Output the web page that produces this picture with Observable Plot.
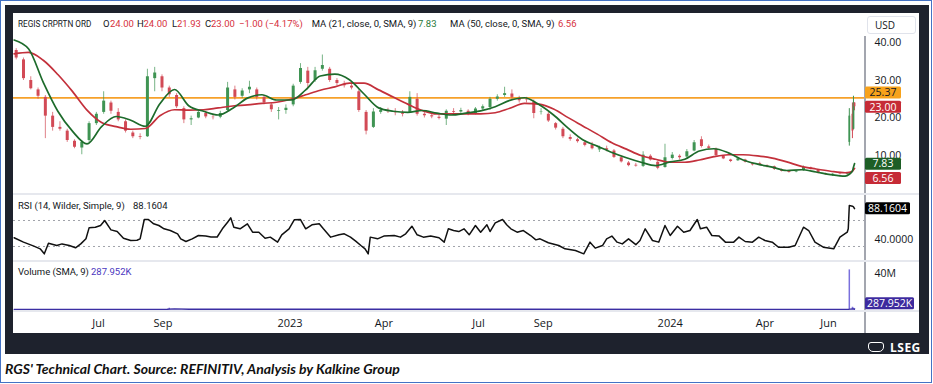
<!DOCTYPE html>
<html><head><meta charset="utf-8">
<script src="https://cdn.jsdelivr.net/npm/d3@7"></script>
<script src="https://cdn.jsdelivr.net/npm/@observablehq/plot@0.6"></script>
<style>
body{margin:0;background:#fff;width:933px;height:384px;overflow:hidden;position:relative;font-family:"Open Sans",sans-serif;color:#131722}
#border{position:absolute;left:0;top:0;width:930px;height:381px;border:1px solid #4472c4}
#frame{position:absolute;left:5px;top:5px;width:924px;height:349px;background:#1e222d}
#inner{position:absolute;left:13px;top:13px;width:906px;height:320px;background:#fff;overflow:hidden}
.pl{position:absolute;left:0}
.sep{position:absolute;left:0;width:906px;height:2px;background:#e6e8ee}
.t{position:absolute;white-space:nowrap;font:9.5px/12px Roboto,sans-serif}
#caption{position:absolute;left:5px;top:360px;font:italic bold 14px Lato,sans-serif;color:#111;white-space:nowrap}
#lseg{position:absolute;left:890px;top:339px;font:bold 12px "Open Sans",sans-serif;color:#fff;letter-spacing:0.5px}
#logo{position:absolute;left:868px;top:342px;width:14px;height:8px;border:1.5px solid #fff;border-radius:3px 3px 5px 5px}
#usd{position:absolute;left:854px;top:3px;width:47px;height:16px;border:1px solid #e0e3eb;border-radius:3px;background:#fff;font:10px/16px "Open Sans",sans-serif;text-indent:7px}
#vaxis{position:absolute;left:851px;top:23px;width:1.5px;height:297px;background:#a3a6af}
</style></head>
<body>
<div id="border"></div>
<div id="frame"></div>
<div id="inner">
  <div id="vaxis"></div>
</div>
<div id="logo"></div>
<div id="lseg">LSEG</div>
<div id="caption">RGS' Technical Chart. Source: REFINITIV, Analysis by Kalkine Group</div>
<script>
// ---------------- DATA ----------------
// weekly candles, first week starting Monday 2022-04-11
const firstWeek = "2022-04-11";
const open = [38,35.5,30,27.5,25.5,20.5,17.5,16.5,13.8,12,
14,18.5,21.5,24,21.5,19,16,15,15,30.5,
31,28,26,22.5,19.5,20,21.2,20.2,20.2,22,
27.5,25.8,27.5,27.5,25.5,23.5,21.8,22,23.5,29.5,
32.5,30,33,33,30,29,28.5,27,21.5,17.5,
21.5,22,21.6,21.3,21.5,25,21,20.6,20.2,19.7,
21.7,21.6,21.8,21.2,22.4,22.8,25,26,26.4,25.2,
24.8,24.3,21.5,21,18.5,17,14.8,14.2,13.4,12.7,
11.5,11.8,11.2,9.4,8,7.4,7.1,9.8,8.2,6.8,
9.2,9.8,9.6,11.2,14.2,12.3,11.7,9.8,8.8,8.6,
8.8,7.8,7.8,7.2,7,6.2,5.8,5.6,6,6.7,
6,5.2,4.8,5.1,5];
const high = [38.5,36,31,28,26,21.5,19,17,14.2,14,
19,21.5,27,24.5,22.5,19.5,16.5,15.8,33,33.5,
31.5,28.5,26.5,23,20.5,22,21.8,21,21.8,29.5,
28.5,27.8,29.8,28,26,24,22.8,23.5,29,34.5,
33.5,33.5,36.8,33.5,30.5,29.8,29.5,27.5,22,22.5,
22.8,22.6,22.5,22,27,26.5,21.5,21.2,20.8,22.2,
22.5,22.6,22.2,22.8,23.5,25.5,26.2,28.2,27.5,25.8,
25.5,24.8,22.5,21.5,18.8,17.5,15.5,14.6,14,13.5,
12.5,12.5,11.6,9.8,8.4,7.9,11,10.2,8.5,13,
10.8,10.2,11.6,14,15,12.8,12,10,9,9.5,
9,8,8.2,7.5,7.2,6.4,6,6,7.2,6.9,
6.1,5.3,5.2,5.5,5.4];
const low = [35.5,30,27.5,25,14.5,16.5,16.5,13.5,11.8,10.2,
13.5,18,21,21,19,16,14.5,14.2,14.8,27,
27,25.5,22.5,18.5,18,19.8,19.8,19.5,19.8,21.5,
24.8,25.2,26.5,24.8,23.5,21.5,19.5,21,23,29,
28,29.5,32.5,29.5,28.5,28,27.5,21.5,15.5,17.2,
21,21.2,20.6,20.3,21.2,20.5,20,19.8,19.5,18,
21,21,20.6,20.8,22,22,24.5,25.5,25,24,
24,19.8,20.8,18.8,16.8,14.5,13.8,13.3,12.3,11.5,
10.8,11,9.2,8,7,6.9,6.8,8.5,6.2,6.6,
8.8,8.8,9.3,11,12,11.6,9.7,8.9,8.1,8.4,
8,7.2,7.3,6.7,6,5.6,5.3,5.4,5.8,6.1,
5.1,4.7,4.4,4.8,4.8];
const close = [36,30.5,27.8,25.8,20.5,17.5,17,14,12.2,13.5,
18.5,21,24.5,21.8,19.5,16.5,15,14.8,31,32,
28,26.2,23,19.5,19.8,21.5,20.3,20.1,21.2,28,
25.5,27.2,28.2,25.5,24,22.2,22,22.6,28.5,33.2,
29.2,32.6,34,30,29.2,28.6,28,22,16.5,21.6,
22,21.7,21.4,21,25.5,21,20.6,20.3,19.9,21.8,
21.5,22,21.2,22.4,23,25,25.6,26.5,25.5,24.6,
24.7,21.2,21.6,19.2,17.3,15,14.3,13.7,12.7,11.8,
11.8,11.4,9.5,8.3,7.3,7.2,10.1,8.8,6.6,9.4,
10.1,9.4,11,13.4,12.4,11.9,10,9.1,8.4,9.1,
8.2,7.5,7.5,7,6.3,5.8,5.5,5.8,6.8,6.3,
5.3,4.9,5,5,5.2];
// final daily candles (June 2024 spike)
const dayDates = ["2024-06-21","2024-06-24","2024-06-25","2024-06-26"];
const dayOpen  = [13.5,21,17,24];
const dayHigh  = [22.5,24,25.8,24];
const dayLow   = [12.5,14.5,16.8,21.93];
const dayClose = [20.5,16.5,24,23];

// moving averages, sampled every 2 weeks from firstWeek, plus a daily tail
const ma21 = [40.8,38.4,29.5,21.8,16.5,13.1,17.7,20.4,19.4,17.8,
23.8,27.6,23.2,21.8,20.8,22.6,25.3,26.2,24.8,24.8,
27.5,31.2,31.7,30.2,26.4,22.7,21.8,21.5,22,21.3,
20.8,21.3,21.9,23,24.7,25.4,23.6,20.8,17.3,14.2,
12.5,10.8,9.4,8.2,7.3,8.3,9,11.2,11.8,10.7,
8.8,7.7,6.9,6,6.2,5.6,4.9,4.5];
const ma50 = [37.1,37.5,35.4,31.6,27.1,22.1,18.8,17.7,17,17.2,
20.6,22.2,22.1,22.2,22.7,23.2,23.5,23.9,24.2,25,
26.2,27.4,28.3,29.3,29.3,27.5,25.6,23.7,22,21.1,
21.1,21.1,21.1,21.4,22.6,23.9,23.7,22.4,20.1,17.9,
15.7,13.4,11.7,10,9,8.2,8.2,8.8,9.7,10.2,
10.2,9.9,9.3,8.3,7.1,6.4,5.8,5.4];
const maTailDates = ["2024-06-21","2024-06-24","2024-06-25","2024-06-26"];
const ma21Tail = [5.0,5.9,6.9,7.83];
const ma50Tail = [5.5,5.8,6.2,6.56];

const resistance = 25.37;

// RSI: day offset from firstWeek, value
const rsiDay = [0,9,19,25,29,33,41,46,53,59,64,69,72,78,83,87,93,99,105,112,118,121,125,129,134,139,144,150,157,160,165,171,177,184,189,195,200,205,208,211,217,224,229,235,241,246,253,257,264,269,275,280,286,293,297,304,312,317,323,328,333,337,340,342,349,355,365,371,376,382,387,393,400,408,413,417,422,427,432,437,443,448,454,457,462,469,473,477,483,489,496,501,505,513,523,529,539,547,553,558,565,569,574,579,584,590,597,601,606,613,619,625,630,637,643,649,656,659,665,670,677,683,691,696,702,709,715,721,728,734,744,750,758,763,769,777,787,793,800,801,802,805,806,807];
const rsiVal = [43.4,36.7,30.5,26.4,18.7,35,31.5,34,31.5,28,34,41.8,58.7,59.7,62.3,70,55.6,53,42.8,39.2,39.6,41.8,71.5,71.5,64.9,62.3,57.2,54.6,49.5,41.8,37.7,41.8,46.9,46,44.6,44.6,57.2,67.4,74.1,59.7,57.2,64.9,52,52,42.8,44.4,36.7,48,57.2,71,71.5,57.2,63.4,64.9,57.2,44.4,48,49.5,44.4,38.2,31.5,26.4,18.7,44.4,41.8,46,46.9,44.4,49.5,61.2,48,44.4,46,43.4,36.7,57.2,54.6,53,57.2,48,62.3,52,63.4,53,66.4,71.5,63.4,57.2,52,54.6,46.9,40.2,41.8,35.7,31.5,26.4,23.8,18.7,36.7,27.5,31.5,41.8,46,36.7,34,41.8,32.8,39.2,57.2,39.2,36.7,62.3,46.9,61.2,52,54.6,71.5,57.2,59.7,46.9,46,36.7,36.7,44.4,37.7,36.7,44.4,39.2,36.7,28.9,28.9,31.5,59.7,54.6,36.7,28.9,26.4,44.4,52,57.2,93,92,91,88.1604];
const rsiLevels = [70, 30];

// volume
const volDates = ["2022-09-07","2024-06-21","2024-06-24","2024-06-25","2024-06-26"];
const volValues = [1.4e6, 44e6, 2.5e6, 1.5e6, 1.0e6];
const volSmaDates = ["2022-04-11","2022-09-05","2022-09-12","2022-09-26","2024-06-20","2024-06-24","2024-06-26"];
const volSmaValues = [0.25e6,0.3e6,0.6e6,0.3e6,0.2e6,0.6e6,0.287952e6];

// axis ticks
const priceTicks = [10,20,30,40];
const rsiTicks = [40];
const volTicks = [40e6];
const xTickDates = ["2022-07-01","2022-09-01","2023-01-01","2023-04-01","2023-07-01","2023-09-01","2024-01-01","2024-04-01","2024-06-01"];
const xTickLabels = ["Jul","Sep","2023","Apr","Jul","Sep","2024","Apr","Jun"];

// header values
const header = {name:"REGIS CRPRTN ORD", o:"24.00", h:"24.00", l:"21.93", c:"23.00", chg:"\u22121.00 (\u22124.17%)",
  ma21Label:"MA (21, close, 0, SMA, 9)", ma21Val:"7.83", ma50Label:"MA (50, close, 0, SMA, 9)", ma50Val:"6.56"};

// ---------------- BUILD ----------------
const DAY = 864e5;
const t0 = new Date(firstWeek + "T00:00Z").getTime();
const weekly = open.map((o,i)=>({date:new Date(t0 + (7*i+2)*DAY), o, h:high[i], l:low[i], c:close[i]}));
const daily = dayDates.map((d,i)=>({date:new Date(d+"T00:00Z"), o:dayOpen[i], h:dayHigh[i], l:dayLow[i], c:dayClose[i]}));
const maData = ma21.map((v,i)=>({date:new Date(t0 + 14*i*DAY), a:v, b:ma50[i]}))
  .concat(maTailDates.map((d,i)=>({date:new Date(d+"T00:00Z"), a:ma21Tail[i], b:ma50Tail[i]})));
const rsiData = rsiDay.map((d,i)=>({date:new Date(t0 + d*DAY), v:rsiVal[i]}));
const volData = volDates.map((d,i)=>({date:new Date(d+"T00:00Z"), v:volValues[i]}));
const volSma = volSmaDates.map((d,i)=>({date:new Date(d+"T00:00Z"), v:volSmaValues[i]}));

const W = 906, MR = 55;
const xScale = {type:"utc", domain:[new Date("2022-04-10T10:00Z"), new Date("2024-07-05T14:00Z")], axis:null};
const GREEN = "#3f9453", RED = "#d24a56";
const col = d => d.c >= d.o ? GREEN : RED;
const font = "Open Sans, sans-serif";

const inner = document.getElementById("inner");
function place(svg, top){ svg.classList.add("pl"); svg.style.top = top+"px"; inner.appendChild(svg); return svg; }
function sep(top){ const d=document.createElement("div"); d.className="sep"; d.style.top=top+"px"; inner.appendChild(d); }
function txt(left, top, s, color, sx){ const d=document.createElement("div"); d.className="t"; d.style.left=left+"px"; d.style.top=top+"px"; d.textContent=s; d.style.color=color||"#131722"; if(sx){d.style.transform="scaleX("+sx+")"; d.style.transformOrigin="left center";} inner.appendChild(d); }
function boxes(svg, items){
  const y = svg.scale("y");
  const g = d3.select(svg).append("g").attr("font-family", font).attr("font-size", 10.5);
  for (const it of items){
    const cy = y.apply(it.v) + (it.dy||0);
    g.append("rect").attr("x", W-MR+1).attr("y", cy-6).attr("width", it.w||36).attr("height", 12).attr("rx",1.5).attr("fill", it.bg);
    g.append("text").attr("x", W-MR+1+(it.w||36)/2).attr("y", cy).attr("dy","0.36em").attr("text-anchor","middle").attr("fill", it.fg||"#fff").text(it.text);
  }
}
const baseStyle = {fontFamily:font, fontSize:"11px", color:"#131722", background:"transparent", overflow:"visible"};

// main price panel
const main = Plot.plot({
  width:W, height:180, marginLeft:0, marginRight:MR, marginTop:0, marginBottom:0,
  style:baseStyle, x:xScale, y:{domain:[-0.13,47.87]},
  marks:[
    Plot.ruleY([resistance], {stroke:"#f6a12a", strokeWidth:1.6}),
    Plot.ruleX(weekly, {x:"date", y1:"l", y2:"h", stroke:col, strokeWidth:1, strokeOpacity:0.7}),
    Plot.ruleX(weekly, {x:"date", y1:"o", y2:"c", stroke:col, strokeWidth:3}),
    Plot.ruleX(daily, {x:"date", y1:"l", y2:"h", stroke:col, strokeWidth:1}),
    Plot.ruleX(daily, {x:"date", y1:"o", y2:"c", stroke:col, strokeWidth:1.8}),
    Plot.line(maData, {x:"date", y:"b", stroke:"#c3303b", strokeWidth:1.7, curve:"monotone-x"}),
    Plot.line(maData, {x:"date", y:"a", stroke:"#1d6b2b", strokeWidth:1.7, curve:"monotone-x"}),
    Plot.axisY(priceTicks, {anchor:"right", label:null, tickSize:0, tickPadding:10, tickFormat:d=>d.toFixed(2), fontSize:10.5})
  ]
});
place(main, 0);
boxes(main, [
  {v:resistance, text:"25.37", bg:"#f7a21b", fg:"#131722", dy:-5},
  {v:23, text:"23.00", bg:"#c62b36", dy:0.5},
  {v:7.83, text:"7.83", bg:"#1d5e26", dy:0.5},
  {v:6.56, text:"6.56", bg:"#c62b36", dy:10}
]);

sep(180);

// RSI panel
const rsi = Plot.plot({
  width:W, height:65, marginLeft:0, marginRight:MR, marginTop:0, marginBottom:0,
  style:baseStyle, x:xScale, y:{domain:[8.46,108.46]},
  marks:[
    Plot.ruleY(rsiLevels, {stroke:"#a0a3ab", strokeDasharray:"2,3", strokeWidth:1}),
    Plot.line(rsiData, {x:"date", y:"v", stroke:"#111", strokeWidth:1.5}),
    Plot.axisY(rsiTicks, {anchor:"right", label:null, tickSize:0, tickPadding:10, tickFormat:d=>d.toFixed(4), fontSize:10.5})
  ]
});
place(rsi, 182);
boxes(rsi, [{v:rsiVal[rsiVal.length-1], text:"88.1604", bg:"#000", w:45}]);

sep(247);

// Volume panel
const vol = Plot.plot({
  width:W, height:48, marginLeft:0, marginRight:MR, marginTop:0, marginBottom:0,
  style:baseStyle, x:xScale, y:{domain:[-1.11e6,52.22e6]},
  marks:[
    Plot.ruleX(volData, {x:"date", y1:0, y2:"v", stroke:"#7a70dc", strokeWidth:1.5}),
    Plot.line(volSma, {x:"date", y:"v", stroke:"#3b2ea3", strokeWidth:1.3}),
    Plot.axisY(volTicks, {anchor:"right", label:null, tickSize:0, tickPadding:10, tickFormat:d=>(d/1e6)+"M", fontSize:10.5})
  ]
});
place(vol, 249);
boxes(vol, [{v:volSmaValues[volSmaValues.length-1], text:"287.952K", bg:"#3d2a9e", w:49, dy:-5.4}]);

sep(297);

// time axis
const xa = Plot.plot({
  width:W, height:21, marginLeft:0, marginRight:MR, marginTop:0, marginBottom:0,
  style:baseStyle, x:xScale,
  marks:[
    Plot.text(xTickDates.map(d=>new Date(d+"T00:00Z")), {x:d=>d, text:(d,i)=>xTickLabels[i], frameAnchor:"middle", fontSize:11, fill:"#131722"})
  ]
});
place(xa, 299);

// header & legends (page coords minus 13)
txt(5, 5, header.name, null, 0.86);
txt(90, 5, "O"); txt(97, 5, header.o, "#d6313d");
txt(124, 5, "H"); txt(130.5, 5, header.h, "#d6313d");
txt(159, 5, "L"); txt(164, 5, header.l, "#d6313d");
txt(192, 5, "C"); txt(198, 5, header.c, "#d6313d");
txt(226, 5, header.chg, "#d6313d");
txt(298.7, 5, header.ma21Label); txt(405, 5, header.ma21Val, "#2b7a38");
txt(437, 5, header.ma50Label); txt(545, 5, header.ma50Val, "#d6313d");
const usd = document.createElement("div"); usd.id="usd"; usd.textContent="USD"; inner.appendChild(usd);
txt(5, 187, "RSI (14, Wilder, Simple, 9)"); txt(120, 187, "88.1604");
txt(5, 253, "Volume (SMA, 9)"); txt(78, 253, "287.952K", "#4b37c0");
</script>
</body></html>
